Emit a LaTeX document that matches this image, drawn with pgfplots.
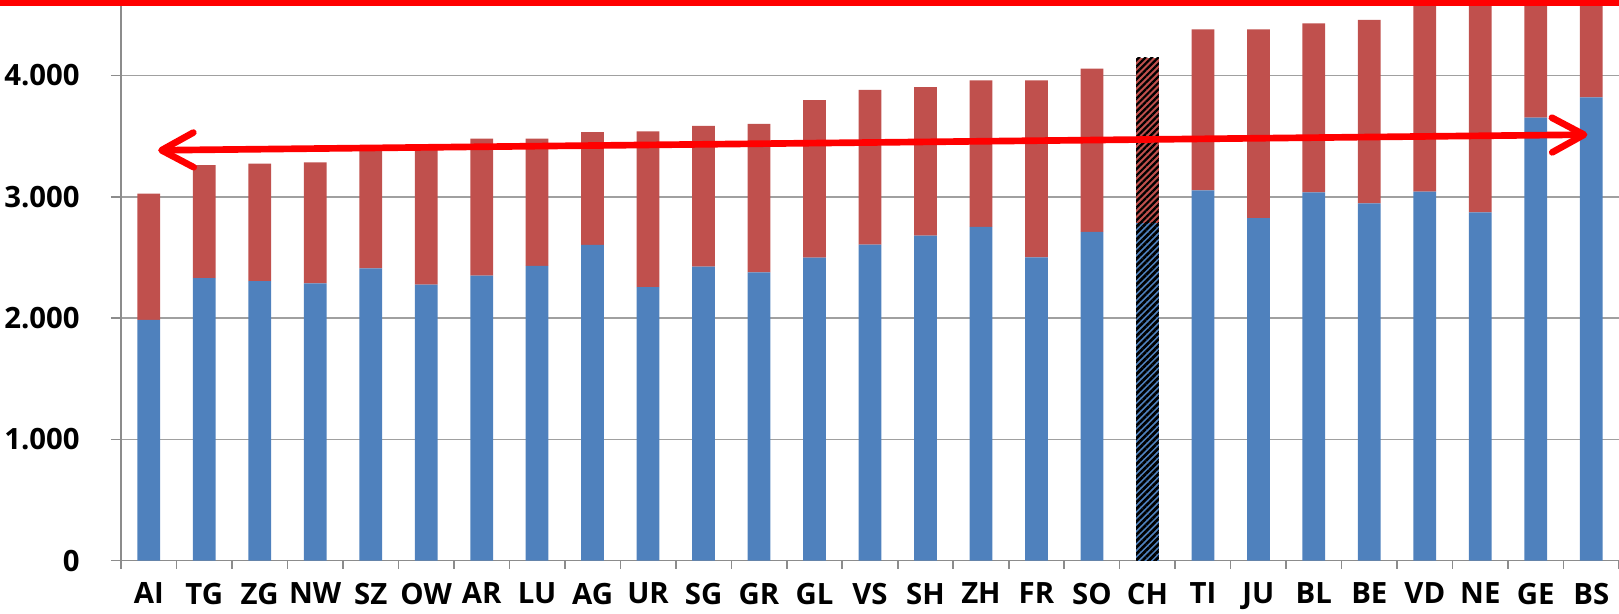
\documentclass[border=0pt]{standalone}
\usepackage{fontspec}
\setmainfont{Open Sans}
\usepackage{pgfplots}
\pgfplotsset{compat=1.18}
\usepackage{pgfplotstable}
\usetikzlibrary{arrows.meta,patterns.meta}

\definecolor{barblue}{HTML}{4F81BD}
\definecolor{barred}{HTML}{C0504D}
\definecolor{gridgray}{HTML}{A0A0A0}
\definecolor{axisgray}{HTML}{8C8C8C}
\definecolor{markred}{HTML}{FF0000}

% Cantons: lower (blue) and upper (red) part of each bar;
% the Swiss total (CH) is kept in its own columns so it can be hatched.
\pgfplotstableread{
idx name blue red chblue chred
0  AI 1985 1040 0 0
1  TG 2330 930  0 0
2  ZG 2305 968  0 0
3  NW 2285 998  0 0
4  SZ 2410 975  0 0
5  OW 2275 1110 0 0
6  AR 2350 1130 0 0
7  LU 2430 1050 0 0
8  AG 2603 929  0 0
9  UR 2256 1282 0 0
10 SG 2425 1159 0 0
11 GR 2376 1224 0 0
12 GL 2499 1298 0 0
13 VS 2606 1275 0 0
14 SH 2680 1224 0 0
15 ZH 2752 1207 0 0
16 FR 2500 1459 0 0
17 SO 2710 1346 0 0
18 CH 0    0    2787 1360
19 TI 3053 1327 0 0
20 JU 2823 1557 0 0
21 BL 3037 1392 0 0
22 BE 2946 1512 0 0
23 VD 3043 1700 0 0
24 NE 2871 1900 0 0
25 GE 3652 1200 0 0
26 BS 3820 1150 0 0
}\cantons

\begin{document}
\begin{tikzpicture}
\begin{axis}[
  scale only axis,
  width=1123.5pt, height=420.5pt,
  xmin=-0.5, xmax=26.5, ymin=0, ymax=4622,
  ybar stacked, bar width=0.41,
  axis lines=left,
  x axis line style={-, axisgray, line width=1.2pt},
  y axis line style={-, axisgray, line width=1.2pt},
  xtick={0,...,26},
  xticklabels from table={\cantons}{name},
  major x tick style={draw=none},
  minor xtick={-0.5,0.5,...,26.5},
  ytick={0,1000,2000,3000,4000},
  yticklabels={0,1.000,2.000,3.000,4.000},
  tick align=outside,
  major tick length=7.5pt,
  minor tick length=6pt,
  tick style={axisgray, line width=1.2pt},
  ymajorgrids,
  grid style={gridgray, line width=1.2pt},
  tick label style={font=\fontsize{22}{26}\selectfont\bfseries, text=black},
  yticklabel style={xshift=-20pt},
  xticklabel style={yshift=-8pt, inner sep=1pt},
]
\addplot[fill=barblue, draw=none] table[x=idx, y=blue] {\cantons};
\addplot[fill=barred, draw=none] table[x=idx, y=red] {\cantons};
\addplot[fill=barblue, draw=none,
  postaction={pattern={Lines[angle=45,distance=3.4pt,line width=2pt]}, pattern color=black}]
  table[x=idx, y=chblue] {\cantons};
\addplot[fill=barred, draw=none,
  postaction={pattern={Lines[angle=45,distance=3.4pt,line width=1.7pt]}, pattern color=black}]
  table[x=idx, y=chred] {\cantons};

\coordinate (bl) at (rel axis cs:0,0);
\coordinate (tr) at (rel axis cs:1,1);
\coordinate (tl) at (rel axis cs:0,1);
\coordinate (arrL) at (axis cs:0.17,3383);
\coordinate (arrR) at (axis cs:25.93,3512);
\end{axis}

% range arrow across the cantons
\draw[markred, line width=5pt,
  {Straight Barb[length=24pt,width=26pt,round]}-{Straight Barb[length=24pt,width=26pt,round]}]
  (arrL) -- (arrR);
% bar along the top edge
\draw[markred, line width=4.8pt]
  ([xshift=-100pt,yshift=-2.25pt]tl) -- ([xshift=10pt,yshift=-2.25pt]tr);

\pgfresetboundingbox
\path[use as bounding box] ([xshift=-90.75pt,yshift=-39.3pt]bl) rectangle (tr);
\end{tikzpicture}
\end{document}
